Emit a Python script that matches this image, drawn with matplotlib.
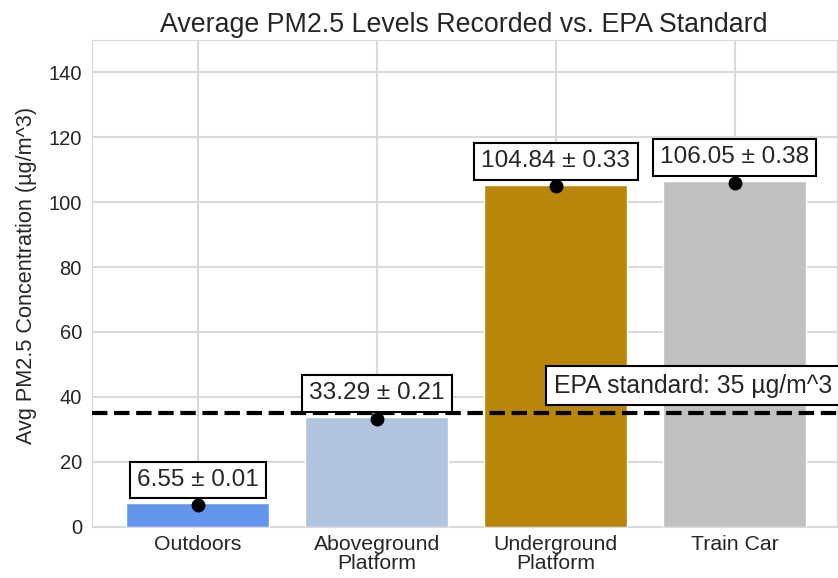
import matplotlib
matplotlib.use("Agg")
import matplotlib.pyplot as plt
import seaborn as sns

categories = ["Outdoors", "Aboveground\nPlatform", "Underground\nPlatform", "Train Car"]
means = [6.55, 33.29, 104.84, 106.05]
errors = [0.01, 0.21, 0.33, 0.38]
bar_heights = [7.2, 33.7, 105.2, 106.4]
bar_colors = ["cornflowerblue", "lightsteelblue", "darkgoldenrod", "silver"]
epa_standard = 35
yticks = [0, 20, 40, 60, 80, 100, 120, 140]

sns.set_style("whitegrid")
plt.rcParams["font.family"] = ["Liberation Sans", "DejaVu Sans"]

fig = plt.figure(figsize=(8.38, 5.78), dpi=100)
ax = fig.add_axes([91.7 / 838, 1 - 526.5 / 578, (836.7 - 91.7) / 838, (526.5 - 40) / 578])

x = list(range(len(categories)))
ax.bar(x, bar_heights, width=0.8, color=bar_colors, zorder=2)
ax.errorbar(x, means, yerr=errors, fmt="o", color="black", markersize=9, zorder=4)
ax.axhline(epa_standard, color="black", linestyle="--", linewidth=3, zorder=3)

for xi, m, e in zip(x, means, errors):
    ax.text(xi, m + 7.8, f"{m:.2f} \u00b1 {e:.2f}", ha="center", va="center",
            fontsize=17.6, color=".15", zorder=5,
            bbox=dict(boxstyle="square,pad=0.3", facecolor="white", edgecolor="black", linewidth=1.5))

ax.text(1.99, 43.4, f"EPA standard: {epa_standard} \u00b5g/m^3", ha="left", va="center",
        fontsize=17.8, color=".15", zorder=5, clip_on=False,
        bbox=dict(boxstyle="square,pad=0.3", facecolor="white", edgecolor="black", linewidth=1.5))

ax.set_xlim(-0.594, 3.571)
ax.set_ylim(0, 150)
ax.set_yticks(yticks)
ax.set_xticks(x)
ax.set_xticklabels(categories, fontsize=15.3, color=".15", linespacing=0.98)
ax.tick_params(axis="x", pad=2.5)
ax.tick_params(axis="y", labelsize=14.5, labelcolor=".15")
ax.set_ylabel("Avg PM2.5 Concentration (\u00b5g/m^3)", fontsize=15.6, color=".15")
ax.yaxis.set_label_coords(-0.074, 0.516)
ax.set_title("Average PM2.5 Levels Recorded vs. EPA Standard", fontsize=19.3, color=".15")
ax.grid(True, color=".85", linewidth=1.5)
for s in ax.spines.values():
    s.set_color(".85")

fig.savefig("out.png", dpi=100)
